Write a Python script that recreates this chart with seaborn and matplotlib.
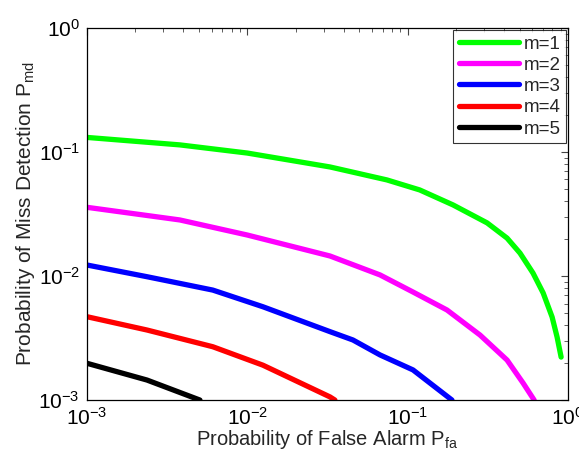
import numpy as np
import pandas as pd
import matplotlib
matplotlib.use("Agg")
import matplotlib.pyplot as plt
import seaborn as sns

# Data (Pfa, Pmd) for each m
m1_pfa = [0.001, 0.0038, 0.01, 0.0328, 0.0743, 0.119, 0.192, 0.313, 0.417, 0.502, 0.605, 0.700, 0.796, 0.855, 0.906]
m1_pmd = [0.131, 0.114, 0.098, 0.0757, 0.0595, 0.0494, 0.0374, 0.0268, 0.0202, 0.0153, 0.01056, 0.0073, 0.00467, 0.00322, 0.00222]

m2_pfa = [0.001, 0.0038, 0.01, 0.0328, 0.0673, 0.108, 0.176, 0.283, 0.417, 0.525, 0.615]
m2_pmd = [0.0358, 0.0283, 0.0214, 0.0145, 0.0102, 0.00743, 0.00532, 0.00334, 0.0021, 0.00137, 0.001]

m3_pfa = [0.001, 0.00237, 0.0061, 0.01253, 0.0328, 0.0456, 0.0673, 0.108, 0.189]
m3_pmd = [0.01227, 0.00987, 0.0077, 0.00565, 0.00356, 0.00305, 0.00231, 0.00175, 0.001]

m4_pfa = [0.001, 0.00237, 0.0061, 0.01253, 0.0328, 0.0352]
m4_pmd = [0.0047, 0.00367, 0.00269, 0.00191, 0.00106, 0.001]

m5_pfa = [0.001, 0.00237, 0.00507]
m5_pmd = [0.00198, 0.00145, 0.001]

labels = ["m=1", "m=2", "m=3", "m=4", "m=5"]
colors = ["#00ff00", "#ff00ff", "#0000ff", "#ff0000", "#000000"]

frames = []
for lab, xs, ys in zip(labels,
                       [m1_pfa, m2_pfa, m3_pfa, m4_pfa, m5_pfa],
                       [m1_pmd, m2_pmd, m3_pmd, m4_pmd, m5_pmd]):
    frames.append(pd.DataFrame({"Pfa": xs, "Pmd": ys, "m": lab}))
df = pd.concat(frames, ignore_index=True)

sns.set_style("white")
plt.rcParams['font.family'] = ['Liberation Sans', 'DejaVu Sans']
plt.rcParams['mathtext.fontset'] = 'custom'
plt.rcParams['mathtext.rm'] = 'Liberation Sans'
plt.rcParams['mathtext.it'] = 'Liberation Sans'
plt.rcParams['mathtext.default'] = 'regular'

fig = plt.figure(figsize=(5.79, 4.5), dpi=100)
ax = fig.add_axes([0.150, 0.111, 0.831, 0.827])

sns.lineplot(data=df, x="Pfa", y="Pmd", hue="m", palette=colors, sort=False,
             estimator=None, units="m", linewidth=3.8, ax=ax)

ax.set_xscale("log")
ax.set_yscale("log")
ax.set_xlim(1e-3, 1e0)
ax.set_ylim(1e-3, 1e0)

ax.set_xlabel("Probability of False Alarm P$_{fa}$", fontsize=14.5, labelpad=-1)
ax.set_ylabel("Probability of Miss Detection P$_{md}$", fontsize=15, labelpad=1)

ax.tick_params(which="both", direction="in", top=True, right=True, colors="#444444",
               labelcolor="black")
ax.tick_params(which="major", length=5, width=0.8, labelsize=15, pad=5)
ax.tick_params(which="minor", length=3, width=0.6)
for s in ax.spines.values():
    s.set_color("black")
    s.set_linewidth(0.9)

leg = ax.legend(title=None, loc="upper right", fontsize=13.5, frameon=True, fancybox=False,
                handlelength=3.2, handletextpad=0.25, borderpad=0.3, labelspacing=0.22,
                borderaxespad=0.1)
leg.get_frame().set_edgecolor("black")
leg.get_frame().set_linewidth(0.8)
for line in leg.get_lines():
    line.set_linewidth(3.8)

fig.savefig("out.png", dpi=100)
